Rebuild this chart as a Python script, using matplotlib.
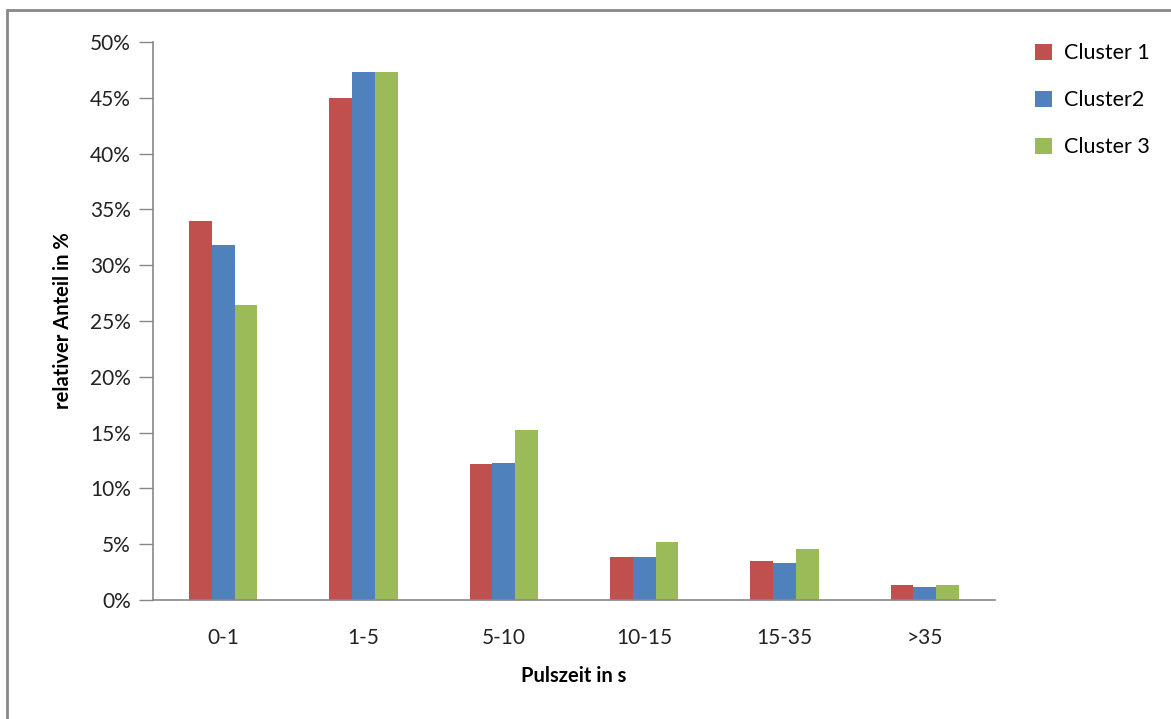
import matplotlib.pyplot as plt
import numpy as np
from matplotlib.patches import Rectangle
from matplotlib.ticker import PercentFormatter

categories = ['0-1', '1-5', '5-10', '10-15', '15-35', '>35']
cluster1 = [34.0, 45.0, 12.2, 3.85, 3.5, 1.3]
cluster2 = [31.8, 47.3, 12.3, 3.85, 3.35, 1.15]
cluster3 = [26.4, 47.3, 15.2, 5.2, 4.55, 1.3]
series_names = ['Cluster 1', 'Cluster2', 'Cluster 3']
colors = ['#C0504D', '#4F81BD', '#9BBB59']

plt.rcParams['font.family'] = ['Lato', 'DejaVu Sans']

fig = plt.figure(figsize=(11.71, 7.19), dpi=100)
ax = fig.add_axes([153 / 1171, 1 - 600 / 719, (995 - 153) / 1171, (600 - 42) / 719])

x = np.arange(len(categories))
width = 0.163
for i, (vals, name, c) in enumerate(zip([cluster1, cluster2, cluster3], series_names, colors)):
    ax.bar(x + (i - 1) * width, vals, width, color=c, label=name)

ax.set_xlim(-0.5, len(categories) - 0.5)
ax.set_ylim(0, 50)
ax.set_yticks(np.arange(0, 51, 5))
ax.yaxis.set_major_formatter(PercentFormatter(decimals=0))
ax.set_xticks(x, categories)
ax.tick_params(axis='x', length=0, pad=20, labelsize=15, colors='#222222')
ax.tick_params(axis='y', length=10, width=1, color='#888888', pad=6, labelsize=15, labelcolor='#222222')
for s in ['top', 'right']:
    ax.spines[s].set_visible(False)
for s in ['left', 'bottom']:
    ax.spines[s].set_color('#888888')
    ax.spines[s].set_linewidth(1.2)

ax.set_ylabel('relativer Anteil in %', fontsize=14.5, fontweight='bold', labelpad=12)
ax.set_xlabel('Pulszeit in s', fontsize=14.5, fontweight='bold', labelpad=13)

fig.legend(loc='upper left', bbox_to_anchor=(1016 / 1171, 1 - 24 / 719), frameon=False,
           fontsize=15.5, labelspacing=1.25, handlelength=0.75, handleheight=0.75, handletextpad=0.6)

fig.patches.append(Rectangle((7 / 1171, -0.1), 1.2, (1 - 10 / 719) + 0.1, transform=fig.transFigure,
                             fill=False, edgecolor='#888888', linewidth=2))

fig.savefig('out.png', dpi=100)
